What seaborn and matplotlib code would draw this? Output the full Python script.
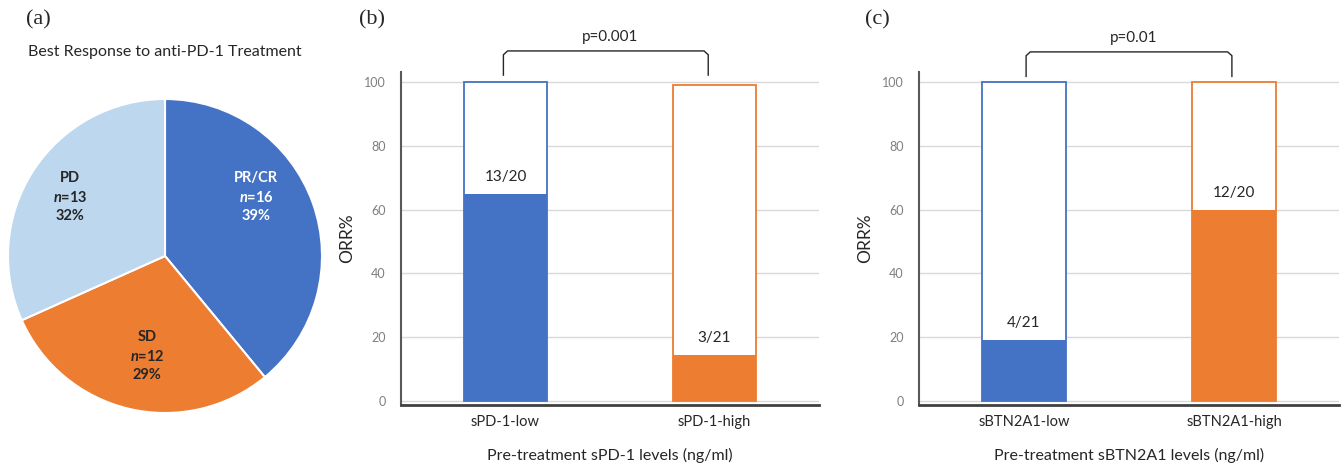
import numpy as np
import pandas as pd
import seaborn as sns
import matplotlib.pyplot as plt
from matplotlib.path import Path
from matplotlib.patches import PathPatch

sns.set_style("white")
plt.rcParams["font.family"] = ["Lato", "DejaVu Sans"]
plt.rcParams["mathtext.fontset"] = "custom"
plt.rcParams["mathtext.it"] = "Lato:italic:bold"
plt.rcParams["mathtext.rm"] = "Lato:bold"

# (a) best response
resp_labels = ["PR/CR", "SD", "PD"]
resp_n = [16, 12, 13]
resp_pct = [39, 29, 32]
resp_colors = ["#4472C4", "#ED7D31", "#BDD7EE"]
resp_text_colors = ["white", "#262626", "#262626"]

# (b) sPD-1
b_groups = ["sPD-1-low", "sPD-1-high"]
b_orr = [65.0, 14.3]
b_total = [100.0, 99.0]
b_frac = ["13/20", "3/21"]
b_p = "p=0.001"

# (c) sBTN2A1
c_groups = ["sBTN2A1-low", "sBTN2A1-high"]
c_orr = [19.0, 60.0]
c_total = [100.0, 100.0]
c_frac = ["4/21", "12/20"]
c_p = "p=0.01"

bar_colors = ["#4472C4", "#ED7D31"]

W, H = 1343, 468
fig = plt.figure(figsize=(W / 100, H / 100), dpi=100)


def px_axes(x0, y0, x1, y1):
    return fig.add_axes([x0 / W, 1 - y1 / H, (x1 - x0) / W, (y1 - y0) / H])


# ---- pie ----
ax_a = px_axes(8, 99, 322, 413)
ax_a.pie(resp_n, colors=resp_colors, startangle=90, counterclock=False, radius=1,
         wedgeprops=dict(edgecolor="white", linewidth=1.5))
ax_a.set_xlim(-1, 1)
ax_a.set_ylim(-1, 1)
ax_a.set_aspect("equal")
label_pos = [(0.58, 0.376), (-0.115, -0.637), (-0.605, 0.376)]
for lab, n, pct, (lx, ly), tc in zip(resp_labels, resp_n, resp_pct, label_pos, resp_text_colors):
    ax_a.text(lx, ly, f"{lab}\n$n$=$\\mathrm{{{n}}}$\n{pct}%", ha="center", va="center",
              fontsize=10.5, fontweight="bold", color=tc, linespacing=1.4)
fig.text(165 / W, 1 - 52 / H, "Best Response to anti-PD-1 Treatment", ha="center", va="center",
         fontsize=11.5, color="#262626")


# ---- bar panels ----
def bar_panel(ax, groups, orr, total, frac, ptxt, xlabel, br):
    # outlined (white) bars up to the total
    sns.barplot(x=groups, y=total, hue=groups, palette=bar_colors, fill=False, width=0.4,
                linewidth=1.3, errorbar=None, legend=False, ax=ax)
    for p in ax.patches:
        p.set_facecolor("white")
        p.set_fill(True)
        p.set_zorder(2)
    n_out = len(ax.patches)
    # filled part = responders
    sns.barplot(x=groups, y=orr, hue=groups, palette=bar_colors, saturation=1, width=0.4,
                linewidth=0, errorbar=None, legend=False, ax=ax)
    for p in ax.patches[n_out:]:
        p.set_zorder(3)
    for i, (v, f) in enumerate(zip(orr, frac)):
        ax.text(i, v + 5.3, f, ha="center", va="center", fontsize=11, color="#262626", zorder=5)
    ax.set_ylim(-1.25, 103.1)
    ax.set_xlim(-0.5, 1.5)
    ax.set_yticks(np.arange(0, 101, 20))
    ax.yaxis.grid(True, color="#D9D9D9", linewidth=1)
    ax.set_axisbelow(True)
    for s in ["top", "right"]:
        ax.spines[s].set_visible(False)
    ax.spines["left"].set_color("#595959")
    ax.spines["left"].set_linewidth(1.5)
    ax.spines["bottom"].set_color("#404040")
    ax.spines["bottom"].set_linewidth(2)
    ax.tick_params(axis="y", length=0, pad=11, labelsize=9, labelcolor="#7F7F7F")
    ax.tick_params(axis="x", length=0, pad=7, labelsize=10.5, labelcolor="#262626")
    ax.set_xticks([0.5], minor=True)
    ax.tick_params(axis="x", which="minor", length=4, direction="in", color="#D9D9D9", width=1.5)
    ax.set_ylabel("ORR%", fontsize=12.5, color="#262626")
    ax.yaxis.set_label_coords(-0.11, 0.5)
    ax.set_xlabel(xlabel, fontsize=11.5, color="#262626")
    ax.xaxis.set_label_coords(0.5, -0.13)
    # significance bracket
    x0, x1, yb, yt = br
    verts = [(x0, yb), (x0, yt - 1.2), (x0 + 0.02, yt), (x1 - 0.02, yt), (x1, yt - 1.2), (x1, yb)]
    codes = [Path.MOVETO, Path.LINETO, Path.LINETO, Path.LINETO, Path.LINETO, Path.LINETO]
    ax.add_patch(PathPatch(Path(verts, codes), fill=False, edgecolor="#262626", linewidth=1,
                           clip_on=False))
    ax.text((x0 + x1) / 2 + 0.02, yt + 4.5, ptxt, ha="center", va="center", fontsize=11,
            color="#262626", clip_on=False)


ax_b = px_axes(401, 72, 819, 405)
bar_panel(ax_b, b_groups, b_orr, b_total, b_frac, b_p,
          "Pre-treatment sPD-1 levels (ng/ml)", (-0.01, 0.97, 101.9, 109.7))
ax_c = px_axes(919, 72, 1339, 405)
bar_panel(ax_c, c_groups, c_orr, c_total, c_frac, c_p,
          "Pre-treatment sBTN2A1 levels (ng/ml)", (0.01, 0.99, 101.5, 109.4))

for lab, x in [("(a)", 38), ("(b)", 372), ("(c)", 877)]:
    fig.text(x / W, 1 - 20 / H, lab, ha="center", va="center", fontsize=16,
             family="Liberation Serif", color="#262626")

fig.savefig("out.png", dpi=100)
